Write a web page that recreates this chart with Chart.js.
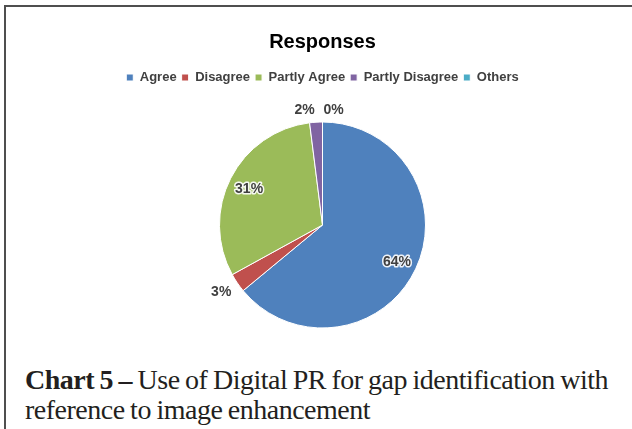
<!DOCTYPE html>
<html lang="en">
<head>
  <meta charset="UTF-8">
  <title>Responses</title>
  <script src="https://cdn.jsdelivr.net/npm/chart.js"></script>
  <style>
    html, body { margin: 0; padding: 0; background: #fff; }
    body { width: 632px; height: 429px; position: relative; overflow: hidden; }
    .moldura {
      position: absolute; left: 4px; top: 5px; right: -10px; bottom: -10px;
      border-top: 2px solid #4f4f4f; border-left: 2px solid #4f4f4f;
    }
    #grafico { position: absolute; left: 0; top: 0; }
    .legenda {
      position: absolute; left: 25px; top: 365px;
      font-family: "Liberation Serif", "Times New Roman", serif;
      font-size: 28px; line-height: 30px; color: #231f20;
      letter-spacing: -0.5px; word-spacing: -1px; white-space: nowrap;
    }
    .legenda b { font-weight: bold; }
  </style>
</head>
<body>
  <div class="moldura"></div>
  <canvas id="grafico" width="632" height="356"></canvas>
  <div class="legenda"><b>Chart 5 –</b> Use of Digital PR for gap identification with<br>reference to image enhancement</div>

  <script>
    const categorias = ['Agree', 'Disagree', 'Partly Agree', 'Partly Disagree', 'Others'];
    const valores = [64, 3, 31, 2, 0];
    const rotulos = ['64%', '3%', '31%', '2%', '0%'];
    const cores = ['#4f81bd', '#c0504d', '#9bbb59', '#8064a2', '#4bacc6'];

    const fonteSans = '"Liberation Sans", Arial, sans-serif';

    // desenha os rotulos de porcentagem (dentro ou fora da fatia)
    const rotulosPlugin = {
      id: 'rotulosFatias',
      afterDatasetsDraw: (chart) => {
        const ctx = chart.ctx;
        const meta = chart.getDatasetMeta(0);
        ctx.save();
        ctx.font = 'bold 14px ' + fonteSans;
        ctx.textBaseline = 'middle';
        ctx.textAlign = 'center';
        meta.data.forEach((arco, i) => {
          const { x, y, startAngle, endAngle, outerRadius } = arco.getProps(['x', 'y', 'startAngle', 'endAngle', 'outerRadius'], true);
          const meio = (startAngle + endAngle) / 2;
          const cos = Math.cos(meio), sin = Math.sin(meio);
          const texto = rotulos[i];
          const w = ctx.measureText(texto).width;
          let px, py;
          if (valores[i] >= 10) {
            px = x + cos * outerRadius * 0.8;
            py = y + sin * outerRadius * 0.8 + 2;
            ctx.lineWidth = 3;
            ctx.strokeStyle = 'rgba(255,255,255,0.9)';
            ctx.lineJoin = 'round';
            ctx.strokeText(texto, px, py);
          } else {
            px = x + cos * (outerRadius + 6) + (cos > -1e-6 ? 1 : -1) * (w / 2 + 1);
            py = y + sin * (outerRadius + 6) + (sin > 0 ? 1 : -1) * 6;
          }
          ctx.fillStyle = '#404040';
          ctx.fillText(texto, px, py);
        });
        ctx.restore();
      }
    };

    new Chart(document.getElementById('grafico'), {
      type: 'pie',
      data: {
        labels: categorias,
        datasets: [{
          data: valores,
          backgroundColor: cores,
          borderColor: '#ffffff',
          borderWidth: 1,
          radius: 103
        }]
      },
      options: {
        responsive: false,
        animation: false,
        layout: { padding: { left: 13, right: 0, top: 0, bottom: 0 } },
        plugins: {
          title: {
            display: true,
            text: 'Responses',
            color: '#000000',
            font: { family: fonteSans, size: 20, weight: 'bold' },
            padding: { top: 30, bottom: 12 }
          },
          legend: {
            position: 'top',
            labels: {
              boxWidth: 7,
              boxHeight: 7,
              padding: 5,
              color: '#404040',
              font: { family: fonteSans, size: 13, weight: 'bold' }
            }
          },
          tooltip: { enabled: false }
        }
      },
      plugins: [rotulosPlugin]
    });
  </script>
</body>
</html>
